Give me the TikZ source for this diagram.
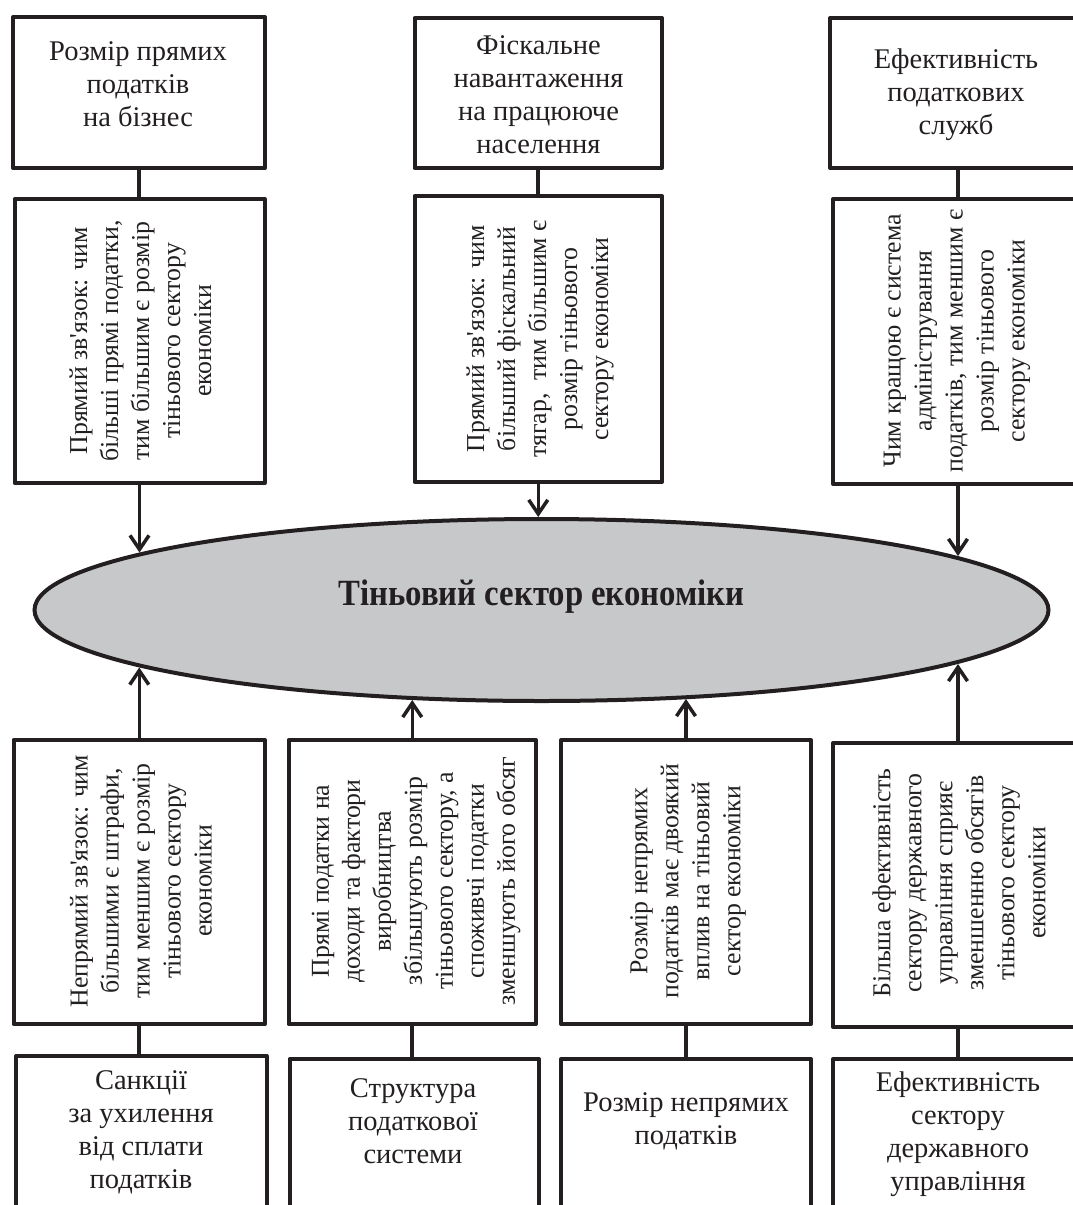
\documentclass[tikz,border=0pt]{standalone}
\usepackage{fontspec}
\setmainfont{Liberation Serif}[Ligatures=TeXOff]
\usepackage{graphicx}
\usetikzlibrary{shapes.geometric,arrows.meta}
\definecolor{ink}{RGB}{35,31,32}
\definecolor{shade}{RGB}{199,200,202}
\begin{document}
\begin{tikzpicture}[x=1pt,y=-1pt,
  box/.style={draw=ink, line width=4pt, line join=round, inner sep=0pt},
  htext/.style={text=ink, align=center, font=\fontsize{28.5}{33}\selectfont, inner sep=0pt},
  vtext/.style={text=ink, align=center, font=\fontsize{25.8}{31}\selectfont, rotate=90, inner sep=0pt},
  link/.style={draw=ink, line width=4pt},
  arr/.style={draw=ink, line width=3.5pt, line cap=round, -{Straight Barb[length=14pt,width=19pt]}}]
\useasboundingbox (0,0) rectangle (1073,1205);
\clip (0,0) rectangle (1073,1205);

% top boxes
\node[box, minimum width=252pt, minimum height=151pt] (a1) at (139,92.5) {};
\node[box, minimum width=247.5pt, minimum height=150pt] (a2) at (538.25,93) {};
\node[box, minimum width=256pt, minimum height=150pt] (a3) at (958,93) {};
\node[htext] (a1t) at (138,84) {Розмір прямих\\податків\\на бізнес};
\node[htext] (a2t) at (538.5,95) {Фіскальне\\навантаження\\на працююче\\населення};
\node[htext] (a3t) at (956,95) {Ефективність\\податкових\\служб};

% upper rotated boxes
\node[box, minimum width=250pt, minimum height=284pt] (r1) at (139.5,341) {};
\node[box, minimum width=247.5pt, minimum height=286pt] (r2) at (538.25,339) {};
\node[box, minimum width=250pt, minimum height=285pt] (r3) at (958,341.5) {};
\node[vtext] (r1t) at (140.5,341) {Прямий зв'язок: чим\\більші прямі податки,\\тим більшим є розмір\\тіньового сектору\\економіки};
\node[vtext] (r2t) at (540,339) {Прямий зв'язок: чим\\більший фіскальний\\тягар,~ тим більшим є\\розмір тіньового\\сектору економіки};
\node[vtext] (r3t) at (957,341) {Чим кращою є система\\адміністрування\\податків, тим меншим є\\розмір тіньового\\сектору економіки};

% ellipse
\node[ellipse, draw=ink, fill=shade, line width=4pt, inner sep=0pt,
      minimum width=1014pt, minimum height=182pt] (sh) at (541.5,610) {};
\node[text=ink, inner sep=0pt, font=\fontsize{37}{40}\selectfont\bfseries] (sht) at (541.5,597)
  {\scalebox{0.885}[1]{Тіньовий сектор економіки}};

% lower rotated boxes
\node[box, minimum width=251.5pt, minimum height=284pt] (b1) at (139.25,882) {};
\node[box, minimum width=247.5pt, minimum height=284pt] (b2) at (412.25,882) {};
\node[box, minimum width=250pt, minimum height=284pt] (b3) at (686,882) {};
\node[box, minimum width=250pt, minimum height=284pt] (b4) at (958,885) {};
\node[vtext] (b1t) at (141,881) {Непрямий зв'язок: чим\\більшими є штрафи,\\тим меншим є розмір\\тіньового сектору\\економіки};
\node[vtext] (b2t) at (416,881) {Прямі податки на\\доходи та фактори\\виробництва\\збільшують розмір\\тіньового сектору, а\\споживчі податки\\зменшують його обсяг};
\node[vtext] (b3t) at (688,881) {Розмір непрямих\\податків має двоякий\\вплив на тіньовий\\сектор економіки};
\node[vtext] (b4t) at (959,883) {Більша ефективність\\сектору державного\\управління сприяє\\зменшенню обсягів\\тіньового сектору\\економіки};

% bottom boxes
\node[box, minimum width=250.5pt, minimum height=174pt] (c1) at (141.25,1143) {};
\node[box, minimum width=249.5pt, minimum height=171pt] (c2) at (414.25,1144.5) {};
\node[box, minimum width=250pt, minimum height=171pt] (c3) at (686,1144.5) {};
\node[box, minimum width=250pt, minimum height=171pt] (c4) at (958,1144.5) {};
\node[htext] (c1t) at (141,1132) {Санкції\\за ухилення\\від сплати\\податків};
\node[htext] (c2t) at (413,1121) {Структура\\податкової\\системи};
\node[htext] (c3t) at (686,1121) {Розмір непрямих\\податків};
\node[htext] (c4t) at (958,1134) {Ефективність\\сектору\\державного\\управління};

% connectors between boxes
\draw[link] (a1.south) -- (a1.south |- r1.north);
\draw[link] (a2.south) -- (a2.south |- r2.north);
\draw[link] (a3.south) -- (a3.south |- r3.north);
\draw[link] (b1.south) -- (b1.south |- c1.north);
\draw[link] (b2.south) -- (b2.south |- c2.north);
\draw[link] (b3.south) -- (b3.south |- c3.north);
\draw[link] (b4.south) -- (b4.south |- c4.north);

% points on the ellipse
\coordinate (e1) at (139.5,552.5);
\coordinate (e2) at (538.25,517);
\coordinate (e3) at (958,556);
\coordinate (f1) at (139.25,667.5);
\coordinate (f2) at (412.25,700);
\coordinate (f3) at (686,699);
\coordinate (f4) at (958,664);

% arrows
\draw[arr] (r1.south) -- (e1);
\draw[arr] (r2.south) -- (e2);
\draw[arr] (r3.south) -- (e3);
\draw[arr] (b1.north) -- (f1);
\draw[arr] (b2.north) -- (f2);
\draw[arr] (b3.north) -- (f3);
\draw[arr] (b4.north) -- (f4);
\end{tikzpicture}
\end{document}
